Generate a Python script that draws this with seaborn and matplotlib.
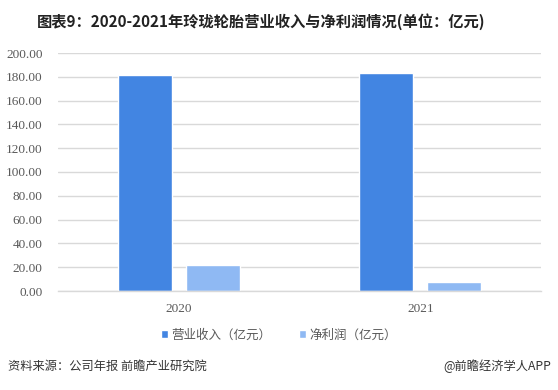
import matplotlib
matplotlib.use("Agg")
import matplotlib.pyplot as plt
import seaborn as sns
import pandas as pd

years = ["2020", "2021"]
series = ["营业收入（亿元）", "净利润（亿元）"]
revenue = [181.4, 183.2]
net_profit = [22.2, 7.5]
yticks = [0, 20, 40, 60, 80, 100, 120, 140, 160, 180, 200]

colors = ["#4285E2", "#8FB9F3"]

sns.set_style("white")
plt.rcParams['font.family'] = ['Noto Sans CJK SC', 'DejaVu Sans']

df = pd.DataFrame({
    "year": years * 2,
    "series": [series[0]] * 2 + [series[1]] * 2,
    "value": revenue + net_profit,
})

fig = plt.figure(figsize=(5.58, 3.90), dpi=100)
ax = fig.add_axes([58/558, 1-291/390, (541-58)/558, (291-53)/390])

sns.barplot(data=df, x="year", y="value", hue="series", palette=colors,
            width=0.563, gap=0.204, ax=ax, saturation=1)

ax.set_ylim(0, 200)
ax.set_xlim(-0.5, 1.5)
ax.yaxis.grid(True, color="#D9D9D9", linewidth=1.0)
ax.set_axisbelow(True)
for s in ["top", "right", "left"]:
    ax.spines[s].set_visible(False)
ax.spines["bottom"].set_color("#D9D9D9")
ax.spines["bottom"].set_linewidth(1.0)
ax.tick_params(axis="both", length=0, colors="#595959")
ax.tick_params(axis="y", pad=11)
ax.tick_params(axis="x", pad=9)
ax.set_yticks(yticks)
ax.set_yticklabels([f"{v:.2f}" for v in yticks], fontfamily="Liberation Serif",
                   fontsize=9.5, color="#595959")
ax.set_xticks(range(len(years)))
ax.set_xticklabels(years, fontfamily="Liberation Serif", fontsize=9.5, color="#595959")
ax.set_xlabel("")
ax.set_ylabel("")

handles, labels = ax.get_legend_handles_labels()
ax.legend(handles, labels, loc="center", bbox_to_anchor=(0.5, 1-335/390),
          bbox_transform=fig.transFigure, ncol=2, frameon=False,
          fontsize=9, handlelength=0.55, handleheight=0.55, handletextpad=0.3,
          columnspacing=2.2, labelcolor="#595959")

fig.text(261/558, 1-22/390, "图表9：2020-2021年玲珑轮胎营业收入与净利润情况(单位：亿元)",
         ha="center", va="center", fontsize=11, fontweight="bold", color="#222222")
fig.text(8/558, 1-366/390, "资料来源：公司年报 前瞻产业研究院",
         ha="left", va="center", fontsize=8.8, color="#333333")
fig.text(551/558, 1-366/390, "@前瞻经济学人APP",
         ha="right", va="center", fontsize=8.8, color="#333333")

fig.savefig("out.png", dpi=100, facecolor="white")
